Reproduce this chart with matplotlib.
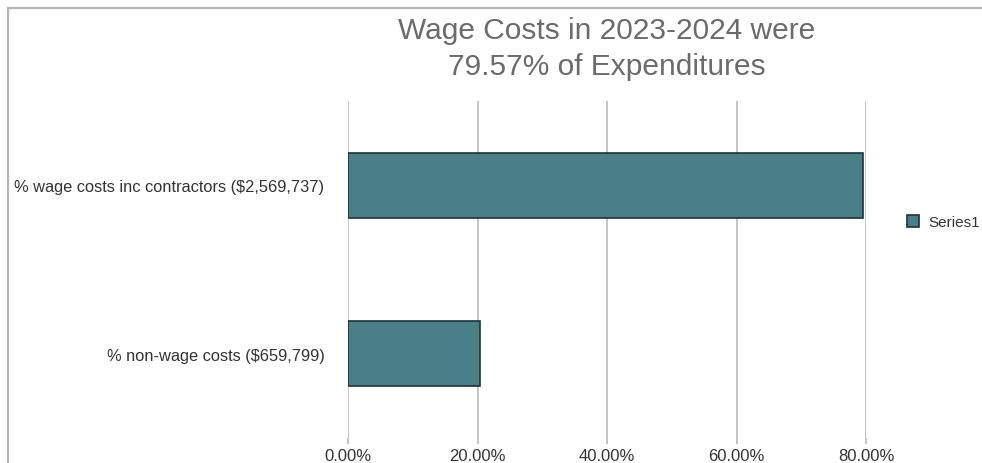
import matplotlib
matplotlib.use("Agg")
import matplotlib.pyplot as plt
from matplotlib.patches import Rectangle
from matplotlib.ticker import FuncFormatter

plt.rcParams['font.family'] = ['Liberation Sans', 'DejaVu Sans']

categories = ["% non-wage costs ($659,799)", "% wage costs inc contractors ($2,569,737)"]
shares = [0.2043, 0.7957]
series_name = "Series1"
title = "Wage Costs in 2023-2024 were\n79.57% of Expenditures"
xticks = [0.0, 0.2, 0.4, 0.6, 0.8]

bar_color = "#4a7f88"; edge_color = "#1f3338"; grid_color = "#c4c4c4"

fig = plt.figure(figsize = (9.82, 4.64), dpi = 100)
fig.patch.set_facecolor("white")

# outer frame of the screenshot
fig.patches.append(Rectangle((8/982, -0.1), 1.1, (464-9)/464 + 0.1, transform = fig.transFigure,
                             fill = False, edgecolor = "#b5b5b5", linewidth = 1.6))

ax = fig.add_axes([348/982, 1 - 439/464, 518/982, 337/464])
ax.barh(range(len(categories)), shares, height = 0.385, color = bar_color,
        edgecolor = edge_color, linewidth = 1.2, label = series_name, zorder = 3)

ax.set_xlim(0, 0.8)
ax.set_ylim(-0.5, 1.5)
ax.set_xticks(xticks)
ax.xaxis.set_major_formatter(FuncFormatter(lambda v, p: "%.2f%%" % (v*100)))
ax.set_yticks(range(len(categories)))
ax.set_yticklabels(categories)
ax.grid(axis = "x", color = grid_color, linewidth = 1.4, zorder = 0)
ax.set_axisbelow(True)
for s in ax.spines.values(): s.set_visible(False)
ax.tick_params(axis = "x", length = 4, color = grid_color, width = 1.4, labelsize = 12, labelcolor = "#333333", pad = 3)
ax.tick_params(axis = "y", length = 0, labelsize = 11.8, labelcolor = "#333333", pad = 17)

fig.text(607/982, 1 - 49/464, title, ha = "center", va = "center", fontsize = 21.5,
         color = "#6b6b6b", linespacing = 1.4)

fig.legend(loc = "center left", bbox_to_anchor = (893/982, 1 - 223/464), frameon = False,
           fontsize = 11, handlelength = 0.8, handleheight = 0.8, handletextpad = 0.6,
           labelcolor = "#333333")

plt.savefig("out.png", dpi = 100)
plt.close()
